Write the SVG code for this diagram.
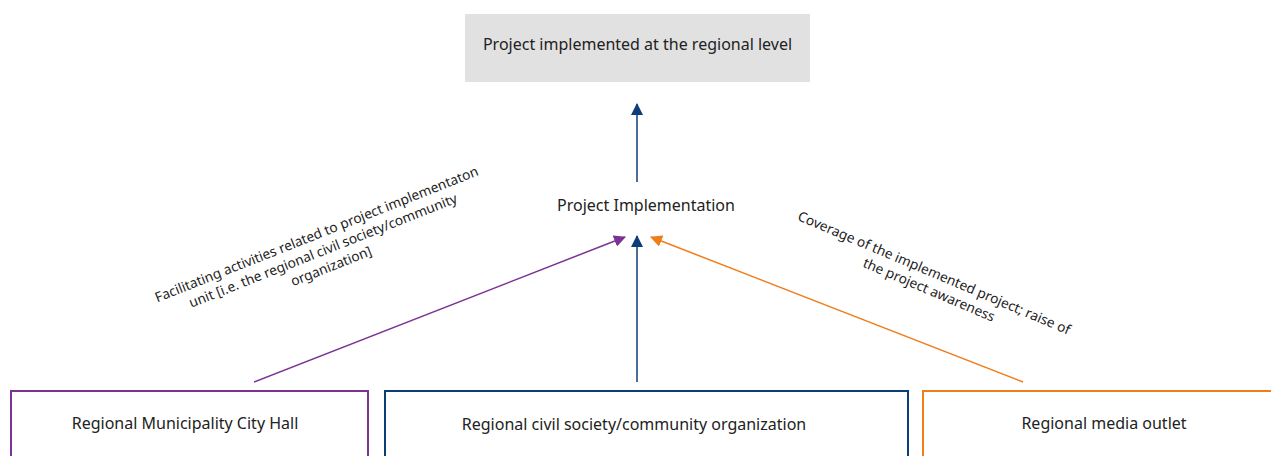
<svg xmlns="http://www.w3.org/2000/svg" width="1271" height="456" viewBox="0 0 1271 456">
  <style>
    text { font-family: "Noto Sans", "Open Sans", "Liberation Sans", sans-serif; fill: #222; }
    .node { font-size: 16px; text-anchor: middle; }
    .lbl { font-size: 13.7px; text-anchor: middle; }
    .box { fill: #fff; stroke-width: 2; }
  </style>
  <defs>
    <marker id="hBlue" viewBox="0 0 12 12" refX="11" refY="6" markerWidth="12" markerHeight="12" markerUnits="userSpaceOnUse" orient="auto">
      <path d="M0,0 L12,6 L0,12 Z" fill="#0b3e78"/>
    </marker>
    <marker id="hPurple" viewBox="0 0 12 12" refX="11" refY="6" markerWidth="12" markerHeight="12" markerUnits="userSpaceOnUse" orient="auto">
      <path d="M0,0 L12,6 L0,12 Z" fill="#7b3294"/>
    </marker>
    <marker id="hOrange" viewBox="0 0 12 12" refX="11" refY="6" markerWidth="12" markerHeight="12" markerUnits="userSpaceOnUse" orient="auto">
      <path d="M0,0 L12,6 L0,12 Z" fill="#ef7d1a"/>
    </marker>
  </defs>

  <g id="connectors" fill="none" stroke-width="1.5">
    <line x1="637" y1="182" x2="637" y2="104" stroke="#0b3e78" marker-end="url(#hBlue)"/>
    <line x1="637" y1="382" x2="637" y2="236" stroke="#0b3e78" marker-end="url(#hBlue)"/>
    <line x1="254" y1="382" x2="625" y2="237" stroke="#7b3294" marker-end="url(#hPurple)"/>
    <line x1="1023" y1="382" x2="651" y2="237" stroke="#ef7d1a" marker-end="url(#hOrange)"/>
  </g>

  <g id="edge-labels">
    <text class="lbl" transform="translate(320,238) rotate(-21.6)">
      <tspan x="0" y="0">Facilitating activities related to project implementaton</tspan>
      <tspan x="0" y="17.5">unit [i.e. the regional civil society/community</tspan>
      <tspan x="0" y="35">organization]</tspan>
    </text>
    <text class="lbl" transform="translate(934,278) rotate(23)">
      <tspan x="0" y="0">Coverage of the implemented project; raise of</tspan>
      <tspan x="0" y="17.5">the project awareness</tspan>
    </text>
  </g>

  <g id="outcome">
    <rect x="465" y="14" width="345" height="68" fill="#e1e1e1"/>
    <text class="node" x="637.5" y="50">Project implemented at the regional level</text>
  </g>

  <g id="implementation">
    <text class="node" x="646" y="211">Project Implementation</text>
  </g>

  <g id="city-hall">
    <rect class="box" x="11" y="391" width="357" height="80" stroke="#7b3294"/>
    <text class="node" x="185" y="429">Regional Municipality City Hall</text>
  </g>

  <g id="civil-society">
    <rect class="box" x="385" y="391" width="523" height="80" stroke="#0b3e78"/>
    <text class="node" x="634" y="430">Regional civil society/community organization</text>
  </g>

  <g id="media-outlet">
    <rect class="box" x="923" y="391" width="360" height="80" stroke="#ef7d1a"/>
    <text class="node" x="1104" y="429">Regional media outlet</text>
  </g>
</svg>
